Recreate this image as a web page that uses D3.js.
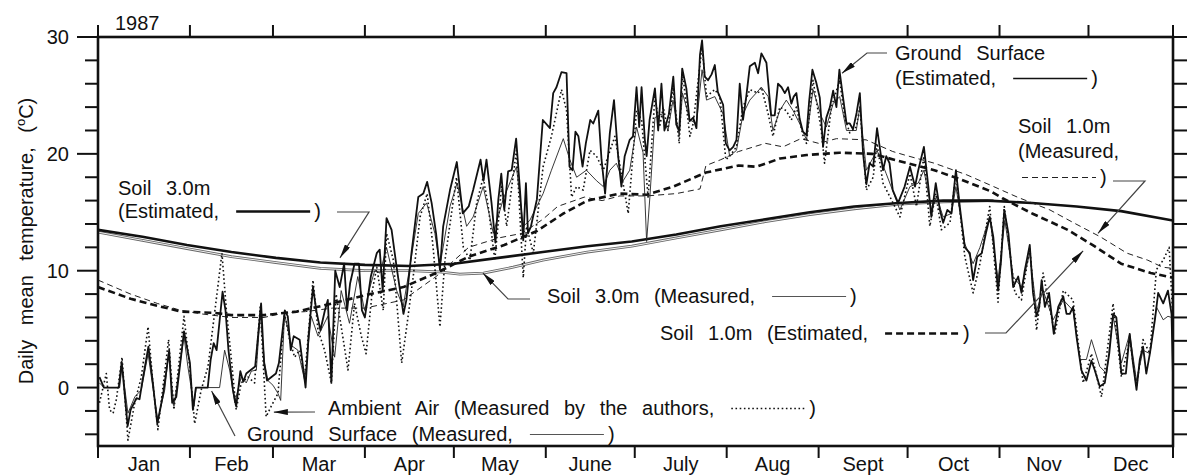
<!DOCTYPE html>
<head>
<style>
  body { margin: 0; background: #fff; }
  text { font-family: "Liberation Sans", Arial, sans-serif; font-size: 20px; fill: #111; word-spacing: 9px; }
  .frame { fill: none; stroke: #111; stroke-width: 2.6; }
  .tick { stroke: #111; stroke-width: 2; }
  .series { fill: none; stroke-linejoin: round; }
  .pointer { fill: none; stroke: #444; stroke-width: 1.2; }
</style>
</head>
<body>
<svg width="1187" height="475"></svg>
<script src="https://d3js.org/d3.v7.min.js"></script>
<script>
// day of year (0 = Jan 1) , daily mean temperature (oC)
var monthStarts = [0, 31, 59, 90, 120, 151, 181, 212, 243, 273, 304, 334];
var lastDay = 362.5;
var monthNames = ["Jan", "Feb", "Mar", "Apr", "May", "June", "July", "Aug", "Sept", "Oct", "Nov", "Dec"];
var yTicks = [-4, -2, 0, 2, 4, 6, 8, 10, 12, 14, 16, 18, 20, 22, 24, 26, 28, 30];
var yLabels = [0, 10, 20, 30];

var groundEst = [[0.5,0.9],[2,0],[7,0],[8,2.2],[10,-3.3],[11,-1.9],[13,-0.9],[14,-1.0],[15,0.6],[17,3.5],[18.5,0.4],[20,-3.1],[22,-0.5],[24,3.2],[25,-1.3],[26.4,-0.8],[29,4.8],[31,2.1],[32,-1.9],[33,0],[37,0],[38,2.4],[39,3.8],[40,3.2],[42,8.2],[43,6.6],[44,3.2],[45.5,-0.2],[46.6,-1.6],[48,1.4],[49,0.5],[50,1.2],[51.5,1.5],[53,1.8],[55,7.2],[56,2.1],[57,0.6],[58.5,0.9],[60,1.2],[61,2.1],[63,6.6],[64,6.1],[65,3.2],[66,4.4],[68,4.1],[70,0],[71,4.4],[72.5,8.6],[73.6,6.6],[75,4.9],[76.5,6.6],[77.5,7.5],[78.7,0.4],[80,10],[81.5,8.6],[83,10.6],[84,6.6],[85,8.9],[86.5,10.6],[88,10.6],[89,6.6],[90,6.0],[92,9.5],[94,11.5],[95,11.8],[96,8.3],[97.3,14.5],[99,13.5],[100.7,10.3],[103,6.3],[104,7.5],[105.7,11.5],[108,16.3],[109.7,16.6],[111,17.6],[112.5,15.8],[114,13.2],[115.3,10.1],[116.4,13.8],[118.7,16.9],[121,19.3],[123,14.9],[125,15.5],[126.5,16.9],[129,19.5],[130,17.7],[131,19.5],[132.7,15.8],[134,12.4],[135,16.1],[136,18.3],[137,15.2],[138.3,18.5],[139.5,18.6],[141,21.3],[142.3,16.9],[143.4,12.6],[144.3,17.5],[145,13.2],[146,13.8],[148,16.1],[150,22.9],[152.4,22.2],[153.5,25.2],[154.6,25.7],[156.3,27],[158,26.9],[159,18.9],[160,18.6],[161,21.9],[162,21.5],[163.4,18.9],[164.5,20.9],[166,22.9],[167,22.6],[168.7,23.7],[169.8,19.5],[171,16.6],[172.6,21.8],[174,24.6],[175.4,19.8],[176.5,17.2],[177.6,19.8],[179.3,21.2],[180.4,21.5],[181.6,25.7],[182.5,22.3],[183.3,25.7],[184.4,21.2],[185,19.8],[186,22.9],[187.8,25.6],[188.9,22],[190,26],[191,22],[192.5,23.4],[194,26.6],[195,22.5],[196,22],[197,27.3],[198.4,25.6],[199.5,22.8],[200.7,23.1],[201.8,22.2],[203,28.5],[203.7,29.7],[204.6,26.6],[205.7,26.3],[206.9,26.8],[208,27.6],[209,25.3],[210.8,24.2],[211.7,20.9],[213,20.3],[214.2,20.6],[215.3,21.2],[216.4,26.0],[217.5,22.9],[218.6,24.9],[219.8,27.5],[221.5,27.8],[222.6,26.9],[223.7,28.6],[225.4,27.8],[227,23.3],[228.2,23.3],[229.3,26.0],[230.5,25.7],[231.6,25.2],[232.7,25.7],[233.8,24.3],[234.6,24.9],[235.5,25.2],[236.6,23],[237.7,21.9],[238.9,21.6],[239.8,24.5],[240.9,27.2],[242.2,26.1],[243.4,24.8],[244.5,20.6],[245.6,23.1],[246.8,24],[247.9,25.4],[249,24],[250,27.2],[251.2,24.9],[252.4,22.6],[253.5,22.6],[254.6,22.1],[255.8,23.5],[256.9,25.2],[258,20.0],[259.1,17.4],[260.2,19.2],[261.4,18.9],[262.7,22.2],[263.6,20.6],[264.7,18.6],[265.8,19.8],[266.9,19.2],[268,16.9],[269.8,15.8],[272,17.2],[273.8,18.9],[275.5,17.2],[276.6,18.6],[278.5,20.6],[280,17.2],[281,14.6],[282.5,17.5],[283.9,15.2],[285,14.1],[286.4,15.2],[287.8,14.9],[289.3,18.6],[290.6,15.5],[292.3,12.0],[294,11.5],[295.1,9.2],[296.5,11.2],[298,11.5],[299.4,13.2],[300.7,14.6],[301.9,12.9],[303.5,8.3],[304.5,10.8],[305.6,15.2],[307,13.2],[308.6,8.6],[310.3,9.5],[311.4,8.1],[312.5,10],[314.2,12.2],[315.3,8.1],[316.5,6.1],[317.4,6.9],[318.2,9.2],[319.3,6.9],[320.7,8.1],[322.3,4.6],[323.8,6.9],[325.5,7.8],[326.6,6.3],[327.7,6.3],[328.8,6.9],[330,4.3],[331.6,1.5],[333.3,0.6],[335,2.3],[336.1,1.5],[337.8,0.1],[339.5,0.4],[341,2.9],[342.3,6.3],[343.4,6.0],[345.1,1.2],[346.6,1.2],[347.9,4.6],[349,2.1],[350.2,-0.2],[351.3,2.4],[352.4,3.5],[353.5,1.2],[354.7,2.9],[356.4,5.8],[357.5,8.1],[359.2,7.2],[360.8,8.3],[362,6.3],[362.5,1.0]];

var groundMeas = [[0.5,0.4],[2,0],[7.3,0],[8.1,1.8],[10.1,-2.2],[12.4,-0.8],[14.6,-0.2],[16.9,2.9],[18.5,0],[20.2,-2.8],[22.5,-0.2],[23.8,2.9],[25.6,-1.6],[29,4.4],[30.3,1.8],[32.4,-1.6],[33.1,0],[41,0],[42.7,3.2],[44.4,1.5],[46.1,-1.3],[47.2,-0.2],[48.3,0.9],[50,0.4],[51.7,1.4],[53.4,1.5],[54.7,6.4],[56.2,2.1],[57.3,0.6],[59,0.2],[60.7,-0.5],[61.6,-1.1],[62.9,6.3],[65.2,3.6],[67.4,3.2],[69.7,0.6],[71.9,6.1],[74.2,4.4],[77.5,6.1],[79.8,2.6],[82,8.3],[84.8,5.5],[87.6,9.5],[89.9,6.6],[91.7,8.6],[93.3,10],[95.1,9.8],[97.3,12.0],[100.7,8.3],[102.9,6.9],[105.7,11.2],[108,14.9],[110.8,15.8],[113.6,13.2],[115.3,10.4],[118.7,15.5],[121.1,17.5],[124.3,13.8],[126.5,14.6],[129.9,17.2],[133.3,13.2],[136.6,16.1],[141.1,18.9],[143.4,13.8],[145.6,14.3],[150.1,16.6],[152.9,18.6],[156.9,21.3],[159.1,19.5],[161.4,18.0],[164.7,18.6],[168.1,17.7],[170.4,17.2],[172.6,18.6],[174.8,19.2],[177.1,17.7],[179.3,18.6],[181.6,22.3],[183.8,20.1],[185,12.5],[186.1,16.3],[187.8,23.1],[190,23.4],[192.2,22.0],[193.9,24.6],[196,21.5],[197.1,25.2],[199.6,22.9],[201.8,22.6],[203.7,27.2],[205.2,24.6],[208,24.9],[210.8,23.4],[213,19.8],[215.3,20.3],[217.5,23.4],[219.8,24.6],[223.7,25.7],[226,24.9],[227.6,22.0],[229.9,23.7],[232.1,24.6],[234.4,23.7],[236.6,22.6],[238.9,21.2],[241.1,25.5],[243.9,23.2],[245.6,22.3],[247.9,24.3],[250.1,24.9],[252.4,22.0],[255.7,22.0],[256.9,24.0],[259.1,18.6],[262.7,20.3],[265.8,18.3],[268.5,16.5],[270.4,15.2],[273.8,17.2],[276.6,17.5],[278.5,18.6],[281.1,15.2],[282.8,16.3],[285,14.6],[287.8,14.9],[289.3,17.2],[292.3,12.3],[295.1,10.6],[297.4,12.0],[300.7,14.6],[303.5,9.2],[305.8,14.3],[308.6,9.5],[311.4,8.6],[314.2,11.5],[316.5,6.6],[318.7,8.3],[322.1,5.8],[325.5,7.5],[328.8,6.6],[331.1,2.4],[333.3,2.4],[335,4.1],[337.8,1.8],[340.1,1.2],[342.3,6.1],[345.1,2.1],[347.9,4.6],[350.2,0.6],[352.4,3.2],[354.7,2.9],[356.9,6.9],[359.2,5.8],[360.8,6.1],[362,6.0],[362.5,2.9]];

var airMeas = [[0.5,-1.3],[2.8,1.2],[3.9,-1.9],[5.1,-2.2],[6.2,-1.0],[8.1,2.6],[10.1,-4.5],[12.4,-1.3],[14.6,0.9],[16.9,5.2],[18.5,0.4],[20.2,-3.6],[23.8,4.1],[25.6,-1.9],[29,6.1],[30.9,1.8],[32.6,-3.1],[34.8,-0.2],[37.1,1.8],[41.8,11.5],[43.3,6.6],[44.9,2.6],[46.6,-1.9],[48.3,0.4],[50.6,0.9],[52.8,0.4],[54.7,6.9],[56.7,-2.5],[58.4,-1.6],[60.7,-0.5],[62.9,6.4],[64.6,4.1],[66.3,2.6],[68,3.2],[69.7,0.9],[72.5,9.2],[74.2,4.9],[76.4,3.2],[78.7,0.4],[80.3,8.0],[84.3,1.5],[86.5,7.2],[88.8,4.4],[90.4,2.9],[92.5,8.3],[94,10.3],[96.2,6.6],[97.3,13.2],[99.6,10.9],[102.4,2.1],[104.1,5.2],[106.3,9.5],[108.6,14.6],[111,16.6],[113,12.0],[115.3,5.2],[117,10.9],[120.9,18.0],[123.2,12.0],[125.4,10.9],[127.7,15.8],[129.9,18.0],[131.6,15.5],[133.8,10.9],[136.1,17.2],[137.8,13.8],[141.1,20.3],[143.4,9.4],[144.5,13.8],[146.8,11.5],[150.1,18.9],[152.9,21.5],[156.3,25.5],[158,23.7],[159.7,16.3],[161.4,17.2],[163.6,16.9],[165.9,20.3],[168.1,19.8],[170.4,18.6],[174.3,21.5],[176.5,18.3],[178.8,14.9],[181.6,23.7],[183.3,22.9],[185.5,16.3],[187.8,24.9],[189.4,22.3],[190.6,24.0],[192.2,22.0],[193.9,25.7],[196,20.9],[197.1,27.0],[199.6,21.5],[200.7,22.6],[203.7,29.2],[205.2,24.9],[208,25.5],[209.7,24.9],[211.7,19.5],[213,19.8],[215.3,20.6],[217.5,24.0],[219.8,25.5],[222.6,25.2],[223.7,25.7],[226,23.4],[227.6,21.5],[229.9,24.0],[232.1,23.7],[233.8,22.9],[235.5,24.0],[237.8,21.5],[238.9,20.9],[241.1,26.3],[243.9,22.0],[245,19.2],[247.3,24.0],[250.1,26.3],[251.8,23.1],[253.5,21.8],[255.7,22.3],[256.9,24.0],[259.1,16.9],[261.4,18.0],[262.7,20.9],[264.7,17.5],[268.1,15.8],[270.4,14.6],[273.8,18.3],[276,15.5],[278.5,19.8],[280.5,13.8],[282.5,16.6],[284.4,13.5],[287.3,14.1],[289.3,18.3],[292.3,11.2],[295.1,8.1],[297.4,10.6],[300.7,15.5],[303.5,7.3],[305.6,15.5],[309.2,8.1],[311.4,7.5],[314.2,12.0],[316.5,4.9],[318.7,9.8],[322.6,4.6],[325.5,8.3],[328.8,7.5],[332.2,0.4],[335,2.9],[338.4,-0.8],[342.3,7.2],[345.1,0.9],[347.9,4.1],[350.2,0.1],[352.4,4.1],[354.7,2.9],[356.9,10.1],[359.2,10.9],[361.2,12.0],[362.5,5.8]];

var soil1Est = [[0,8.6],[11,7.6],[20,7.0],[28,6.5],[39,6.4],[45,6.2],[56,6.2],[67,6.5],[79,7.2],[90,7.9],[103,8.6],[114,9.8],[125,11.2],[137,12.2],[148,13.4],[157,14.9],[165,16.0],[176,16.6],[185,16.5],[194,17.2],[205,18.4],[216,19.0],[222,18.9],[230,19.6],[239,19.9],[250,20.1],[261,20.0],[270,19.4],[282,18.6],[290,17.9],[301,16.8],[305,16.2],[315,14.9],[327,13.5],[336,12.1],[345,10.6],[355,9.8],[362.5,9.4]];

var soil1Meas = [[0,9.2],[11,8.0],[20,7.2],[28,6.6],[35,6.3],[45,6.0],[56,6.0],[63,6.4],[70,6.5],[79,6.8],[90,6.8],[103,7.5],[114,9.5],[125,12.0],[135,12.8],[143,13.2],[150,14.4],[155,15.5],[164,16.3],[170,16.0],[176,16.4],[185,16.4],[195,16.6],[203,17.0],[205,19.0],[210,19.5],[216,20.2],[225,20.9],[231,20.6],[237,21.3],[243,20.9],[249,21.3],[259,21.2],[268,20.2],[272,19.9],[282,19.2],[293,18.2],[302,17.2],[310,16.3],[321,15.2],[329,14.1],[338,12.9],[347,11.5],[354,10.9],[359,10.3],[362.5,10.2]];

var soil3Est = [[0,13.5],[15,12.9],[30,12.2],[45,11.6],[60,11.1],[75,10.7],[90,10.5],[105,10.4],[120,10.6],[135,11.1],[150,11.6],[165,12.1],[180,12.5],[195,13.1],[210,13.8],[225,14.4],[240,15.0],[255,15.5],[270,15.8],[285,16.0],[300,16.0],[315,15.8],[330,15.5],[345,15.1],[362.5,14.3]];

var soil3Meas = [[0,13.3],[15,12.6],[30,11.9],[45,11.2],[60,10.7],[75,10.2],[90,10.0],[105,10.0],[115,9.9],[122,9.7],[130,9.8],[140,10.3],[150,10.9],[165,11.6],[180,12.1],[195,12.8],[210,13.5],[225,14.2],[240,14.8],[255,15.3],[270,15.7],[285,15.9],[302,16.0]];

var x = d3.scaleLinear().domain([0, lastDay]).range([98, 1173]);
var y = d3.scaleLinear().domain([-5, 30]).range([446, 37]);

var svg = d3.select("svg");

var defs = svg.append("defs");
defs.append("clipPath").attr("id", "plot")
  .append("rect")
    .attr("x", x(0)).attr("y", y(30))
    .attr("width", x(lastDay) - x(0)).attr("height", y(-5) - y(30));
defs.append("marker")
    .attr("id", "head")
    .attr("viewBox", "0 -3 14 6")
    .attr("refX", 14).attr("refY", 0)
    .attr("markerUnits", "userSpaceOnUse")
    .attr("markerWidth", 14).attr("markerHeight", 6)
    .attr("orient", "auto")
  .append("path")
    .attr("d", "M0,-3L14,0L0,3Z")
    .attr("fill", "#111");

var line = d3.line()
    .x(function(d) { return x(d[0]); })
    .y(function(d) { return y(d[1]); });

// series styles
var styles = {
  soil3Meas: {stroke: "#666", width: 2.8, dash: null},
  soil3Est:  {stroke: "#111", width: 2.6, dash: null},
  soil1Meas: {stroke: "#222", width: 1, dash: "6,4"},
  soil1Est:  {stroke: "#111", width: 2.6, dash: "7,4"},
  airMeas:   {stroke: "#111", width: 1.6, dash: "1.6,2.6"},
  groundMeas:{stroke: "#222", width: 0.9, dash: null},
  groundEst: {stroke: "#111", width: 1.8, dash: null}
};

var plot = svg.append("g").attr("clip-path", "url(#plot)");

function drawSeries(data, st) {
  plot.append("path")
      .attr("class", "series")
      .attr("d", line(data))
      .attr("stroke", st.stroke)
      .attr("stroke-width", st.width)
      .attr("stroke-dasharray", st.dash);
}

drawSeries(soil3Meas, styles.soil3Meas);
plot.append("path").attr("class", "series").attr("d", line(soil3Meas))
    .attr("stroke", "#fff").attr("stroke-width", 0.9);
drawSeries(soil3Est, styles.soil3Est);
drawSeries(soil1Meas, styles.soil1Meas);
drawSeries(soil1Est, styles.soil1Est);
drawSeries(airMeas, styles.airMeas);
drawSeries(groundMeas, styles.groundMeas);
drawSeries(groundEst, styles.groundEst);

// frame and ticks
svg.append("rect")
    .attr("class", "frame")
    .attr("x", x(0)).attr("y", y(30))
    .attr("width", x(lastDay) - x(0)).attr("height", y(-5) - y(30));

var xTicks = monthStarts.concat([lastDay]);
xTicks.forEach(function(d) {
  svg.append("line").attr("class", "tick")
      .attr("x1", x(d)).attr("x2", x(d)).attr("y1", y(30)).attr("y2", y(30) - 12);
  svg.append("line").attr("class", "tick")
      .attr("x1", x(d)).attr("x2", x(d)).attr("y1", y(-5)).attr("y2", y(-5) + 12);
});

monthNames.forEach(function(m, i) {
  var mid = (x(xTicks[i]) + x(xTicks[i + 1])) / 2;
  svg.append("text").attr("x", mid).attr("y", 471)
      .attr("text-anchor", "middle").text(m);
});

yTicks.forEach(function(v) {
  var len = yLabels.indexOf(v) >= 0 ? 21 : 13;
  svg.append("line").attr("class", "tick")
      .attr("x1", x(0) - len).attr("x2", x(0)).attr("y1", y(v)).attr("y2", y(v));
  svg.append("line").attr("class", "tick")
      .attr("x1", x(lastDay)).attr("x2", x(lastDay) + 14).attr("y1", y(v)).attr("y2", y(v));
});

yLabels.forEach(function(v) {
  svg.append("text").attr("x", 69).attr("y", y(v)).attr("dy", "0.36em")
      .attr("text-anchor", "end").text(v);
});

svg.append("text").attr("x", 115).attr("y", 30).text("1987");

var yl = svg.append("text")
    .attr("transform", "translate(33,241) rotate(-90)")
    .attr("text-anchor", "middle");
yl.append("tspan").text("Daily mean temperature, (");
yl.append("tspan").attr("font-size", "13px").attr("dy", "-8").text("o");
yl.append("tspan").attr("dy", "8").text("C)");

// annotations
function note(px, py, str) {
  return svg.append("text").attr("x", px).attr("y", py).text(str);
}

function sample(x0, py, st) {
  svg.append("line")
      .attr("x1", x0).attr("x2", x0 + 74)
      .attr("y1", py - 6.5).attr("y2", py - 6.5)
      .attr("stroke", st.stroke).attr("stroke-width", Math.min(st.width, 2.4))
      .attr("stroke-dasharray", st.dash);
  svg.append("text").attr("x", x0 + 78).attr("y", py).text(")");
}

function sampleAfter(t, st) {
  var end = +t.attr("x") + t.node().getComputedTextLength();
  sample(end + 17, +t.attr("y"), st);
}

function pointer(pts, tip) {
  var p = pts.concat([[x(tip[0]), y(tip[1])]]);
  svg.append("path").attr("class", "pointer")
      .attr("d", d3.line()(p))
      .attr("marker-end", "url(#head)");
}

var thinGray = {stroke: "#555", width: 1, dash: null};

note(118, 195, "Soil 3.0m");
sampleAfter(note(118, 218, "(Estimated,"), styles.soil3Est);
pointer([[337, 212], [369, 212]], [81.6, 11.1]);

sampleAfter(note(547, 303, "Soil 3.0m (Measured,"), thinGray);
pointer([[530, 299], [508, 299]], [129.8, 9.8]);

sampleAfter(note(660, 340, "Soil 1.0m (Estimated,"), styles.soil1Est);
pointer([[985, 333], [1006, 333]], [332.2, 11.7]);

note(895, 60, "Ground Surface");
sampleAfter(note(895, 85, "(Estimated,"), {stroke: "#111", width: 1.6, dash: null});
pointer([[887, 53], [867, 53]], [250.9, 26.9]);

note(1018, 133, "Soil 1.0m");
note(1018, 158, "(Measured,");
sample(1022, 184, styles.soil1Meas);
pointer([[1113, 181], [1145, 181]], [337.2, 13.2]);

sampleAfter(note(328, 415, "Ambient Air (Measured by the authors,"), styles.airMeas);
pointer([[315, 412]], [59.3, -2.1]);

sampleAfter(note(247, 441, "Ground Surface (Measured,"), thinGray);
pointer([[235, 436]], [38.3, -0.3]);
</script>
</body>
</html>
